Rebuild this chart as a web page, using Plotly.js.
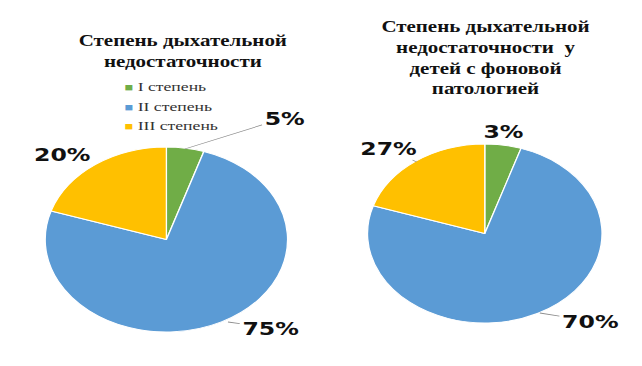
<!DOCTYPE html>
<html><head><meta charset="utf-8">
<script src="https://cdn.plot.ly/plotly-3.0.1.min.js"></script>
<style>
html,body{margin:0;padding:0;background:#fff;overflow:hidden;}
#wrap{width:642px;height:366px;overflow:hidden;}
#chart{width:490px;height:366px;transform:scaleX(1.3102);transform-origin:0 0;}
</style></head>
<body><div id="wrap"><div id="chart"></div></div>
<script>
// Data
const categories = ['I степень', 'II степень', 'III степень'];
const colors = ['#70AD47', '#5B9BD5', '#FFC000'];
const leftTitle = 'Степень дыхательной<br>недостаточности';
const leftValues = [5, 75, 20];
const leftLabels = ['5%', '75%', '20%'];
const rightTitle = 'Степень дыхательной<br>недостаточности  у<br>детей с фоновой<br>патологией';
const rightValues = [5, 75, 20];        // slice sizes as drawn
const rightLabels = ['3%', '70%', '27%']; // printed labels

const W = 490, H = 366;
const px = x => x / W, py = y => 1 - y / H;

function pie(values, dom) {
  return {
    type: 'pie', labels: categories, values: values, sort: false,
    direction: 'clockwise', rotation: 0, textinfo: 'none', hoverinfo: 'label+percent',
    marker: {colors: colors, line: {color: '#ffffff', width: 1}},
    domain: dom, showlegend: false
  };
}

const data = [
  pie(leftValues, {x: [px(34.5), px(219.5)], y: [py(332), py(147)]}),
  pie(rightValues, {x: [px(280.5), px(459.5)], y: [py(323), py(144)]})
];

const pctFont = {family: 'DejaVu Sans, Verdana, sans-serif', size: 18, color: '#111', weight: 'bold'};
function lab(text, hx, hy, ax, ay, arrow) {
  return {
    xref: 'paper', yref: 'paper', x: px(hx), y: py(hy), text: '<b>' + text + '</b>',
    showarrow: arrow, arrowhead: 0, arrowwidth: 0.8, arrowcolor: '#8c8c8c',
    ax: ax, ay: ay, font: pctFont, xanchor: 'center', yanchor: 'middle'
  };
}
const serif = 'Liberation Serif, Times New Roman, serif';
const titleFont = {family: serif, size: 16, color: '#111'};

const annotations = [
  {xref: 'paper', yref: 'paper', x: px(139), y: py(51), text: '<b>' + leftTitle + '</b>', showarrow: false,
   font: titleFont, xanchor: 'center', yanchor: 'middle'},
  {xref: 'paper', yref: 'paper', x: px(370), y: py(57), text: '<b>' + rightTitle + '</b>', showarrow: false,
   font: titleFont, xanchor: 'center', yanchor: 'middle'},
  lab(leftLabels[0], 141, 149, 76, -31, true),
  lab(leftLabels[1], 174, 322, 32, 6, true),
  lab(leftLabels[2], 70, 165, -23, -10, true),
  lab(rightLabels[0], 384, 131, 0, 0, false),
  lab(rightLabels[1], 412, 313, 38, 8, true),
  lab(rightLabels[2], 318, 162, -22, -14, true)
];
// Legend (drawn as text entries next to coloured squares)
const legendY = [87, 106, 126];
categories.forEach((c, i) => {
  annotations.push({
    xref: 'paper', yref: 'paper', x: px(92.5), y: py(legendY[i]),
    text: '<span style="color:' + colors[i] + ';font-size:11px">■</span> ' + c,
    showarrow: false, xanchor: 'left', yanchor: 'middle',
    font: {family: serif, size: 13.5, color: '#333'}
  });
});

const layout = {
  width: W, height: H, margin: {l: 0, r: 0, t: 0, b: 0},
  paper_bgcolor: '#ffffff', plot_bgcolor: '#ffffff',
  showlegend: false,
  annotations: annotations
};
Plotly.newPlot('chart', data, layout, {displayModeBar: false, staticPlot: true});
</script></body></html>
